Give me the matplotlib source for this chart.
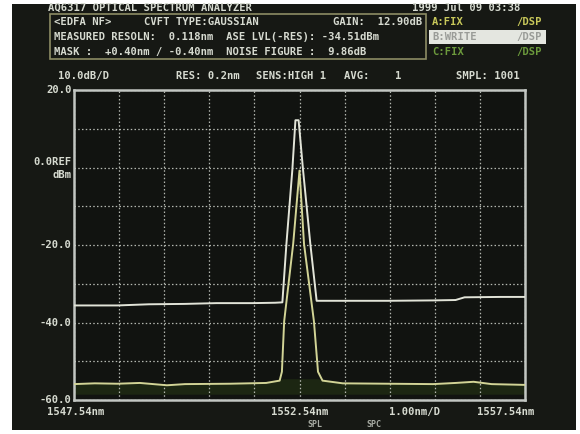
import matplotlib
matplotlib.use("Agg")
import matplotlib.pyplot as plt
import matplotlib.patches as mpatches
import matplotlib.transforms as mtrans
import numpy as np

# ---------------- data ----------------
x_start = 1547.54
x_center = 1552.54
x_stop = 1557.54
y_top = 20.0
y_bottom = -60.0

# trace B (white, WRITE) : amplifier output
b_wavelength = [1547.54, 1548.5, 1549.2, 1550.0, 1550.7, 1551.5, 1552.0, 1552.16,
                1552.25, 1552.38, 1552.45, 1552.52, 1552.62, 1552.78, 1552.92,
                1553.5, 1554.5, 1555.5, 1556.0, 1556.2, 1557.0, 1557.54]
b_level = [-35.6, -35.6, -35.3, -35.2, -35.0, -35.0, -34.9, -34.8,
           -19.7, -0.8, 12.2, 12.2, -0.8, -19.7, -34.4,
           -34.4, -34.4, -34.3, -34.2, -33.5, -33.4, -33.4]

# trace A (yellow, FIX) : amplifier input
a_wavelength = [1547.54, 1548.0, 1548.5, 1549.0, 1549.6, 1550.0, 1551.0, 1551.8,
                1552.10, 1552.15, 1552.20, 1552.40, 1552.54, 1552.64, 1552.86,
                1552.95, 1553.05, 1553.5, 1554.5, 1555.5, 1556.0, 1556.4,
                1556.8, 1557.54]
a_level = [-55.9, -55.7, -55.8, -55.6, -56.2, -55.9, -55.8, -55.6,
           -55.0, -52.7, -39.7, -19.7, -0.8, -19.7, -39.7,
           -52.7, -55.0, -55.7, -55.8, -55.9, -55.6, -55.3,
           -55.9, -56.1]

y_labels = {20: "20.0", 0: "0.0REF", -20: "-20.0", -40: "-40.0", -60: "-60.0"}

# ---------------- figure ----------------
W, H = 580, 434
fig = plt.figure(figsize=(W / 100, H / 100), dpi=100, facecolor="white")

def fx(px):
    return px / W

def fy(py):
    return 1 - py / H

# dark screen / photo background
fig.patches.append(mpatches.Rectangle((fx(12), fy(430)), fx(576) - fx(12), fy(4) - fy(430),
                                      transform=fig.transFigure, facecolor="#161814",
                                      edgecolor="none", zorder=-5))

mono = "DejaVu Sans Mono"
txt_col = "#d6dad0"
fs = 7.6

def t(px, py, s, color=txt_col, size=fs, ha="left", **kw):
    fig.text(fx(px), fy(py), s, color=color, fontsize=size, family=mono,
             ha=ha, va="center", fontweight="bold", zorder=3, **kw)

# header line
t(48, 8, "AQ6317 OPTICAL SPECTRUM ANALYZER")
t(412, 8, "1999 Jul 09 03:38")

# parameter box
fig.patches.append(mpatches.Rectangle((fx(50), fy(59)), fx(426) - fx(50), fy(14) - fy(59),
                                      transform=fig.transFigure, facecolor="none",
                                      edgecolor="#8c8c64", lw=1.2, zorder=1))
t(54, 22, "<EDFA NF>")
t(144, 22, "CVFT TYPE:GAUSSIAN")
t(333, 22, "GAIN:  12.90dB")
t(54, 37, "MEASURED RESOLN:  0.118nm  ASE LVL(-RES): -34.51dBm")
t(54, 52, "MASK :  +0.40nm / -0.40nm  NOISE FIGURE :  9.86dB")

# trace status
t(432, 22, "A:FIX", color="#c8c85a")
t(542, 22, "/DSP", color="#c8c85a", ha="right")
fig.patches.append(mpatches.Rectangle((fx(429), fy(44)), fx(546) - fx(429), fy(30) - fy(44),
                                      transform=fig.transFigure, facecolor="#e4e6e0",
                                      edgecolor="none", zorder=1))
t(432, 37, "B:WRITE", color="#9a9c98")
t(542, 37, "/DSP", color="#9a9c98", ha="right")
t(432, 52, "C:FIX", color="#6c9a3c")
t(542, 52, "/DSP", color="#6c9a3c", ha="right")

# condition line
t(58, 76, "10.0dB/D")
t(176, 76, "RES: 0.2nm")
t(256, 76, "SENS:HIGH 1")
t(344, 76, "AVG:    1")
t(456, 76, "SMPL: 1001")

# ---------------- plot area ----------------
ax = fig.add_axes([fx(74), fy(400), fx(525) - fx(74), fy(90) - fy(400)])
ax.set_zorder(2)
ax.set_facecolor("#111310")
ax.set_xlim(x_start, x_stop)
ax.set_ylim(y_bottom, y_top)
ax.set_xticks([x_start + i for i in range(11)])
ax.set_yticks([y_bottom + 10 * i for i in range(9)])
ax.tick_params(length=0, labelbottom=False, labelleft=False)
ax.grid(True, color="#b4b8b0", lw=0.9, linestyle=(0, (1.2, 1.8)))
for sp in ax.spines.values():
    sp.set_color("#c2c6c2")
    sp.set_linewidth(1.8)

# faint green glow just below the input-trace noise floor
ax.fill_between(a_wavelength, np.minimum(a_level, -54.5), y_bottom + 1.5,
                color="#1c2612", zorder=1, lw=0)
ax.plot(b_wavelength, b_level, color="#e2e4d8", lw=1.4, zorder=3)
ax.plot(a_wavelength, a_level, color="#d2d496", lw=1.4, zorder=4)

# y labels
ytr = mtrans.blended_transform_factory(ax.transAxes, ax.transData)
for val, lab in y_labels.items():
    if lab.endswith("REF"):
        ax.text(-0.005, val + 1.5, lab, transform=ytr, ha="right", va="center",
                color=txt_col, fontsize=fs, family=mono, fontweight="bold", clip_on=False)
        ax.text(-0.005, val - 2.0, "dBm", transform=ytr, ha="right", va="center",
                color=txt_col, fontsize=fs, family=mono, fontweight="bold", clip_on=False)
    else:
        ax.text(-0.005, val, lab, transform=ytr, ha="right", va="center",
                color=txt_col, fontsize=fs, family=mono, fontweight="bold", clip_on=False)

# x labels
xtr = mtrans.blended_transform_factory(ax.transData, ax.transAxes)
ax.text(x_start - 0.6, -0.04, f"{x_start:.2f}nm", transform=xtr, ha="left", va="center",
        color=txt_col, fontsize=fs, family=mono, fontweight="bold")
ax.text(x_center, -0.04, f"{x_center:.2f}nm", transform=xtr, ha="center", va="center",
        color=txt_col, fontsize=fs, family=mono, fontweight="bold")
ax.text(x_center + 2.55, -0.04, "1.00nm/D", transform=xtr, ha="center", va="center",
        color=txt_col, fontsize=fs, family=mono, fontweight="bold")
ax.text(x_stop + 0.2, -0.04, f"{x_stop:.2f}nm", transform=xtr, ha="right", va="center",
        color=txt_col, fontsize=fs, family=mono, fontweight="bold")
ax.text(x_center + 0.35, -0.08, "SPL", transform=xtr, ha="center", va="center",
        color="#a8aca4", fontsize=6, family=mono, fontweight="bold")
ax.text(x_center + 1.65, -0.08, "SPC", transform=xtr, ha="center", va="center",
        color="#a8aca4", fontsize=6, family=mono, fontweight="bold")

fig.savefig("out.png", dpi=100, facecolor=fig.get_facecolor())
